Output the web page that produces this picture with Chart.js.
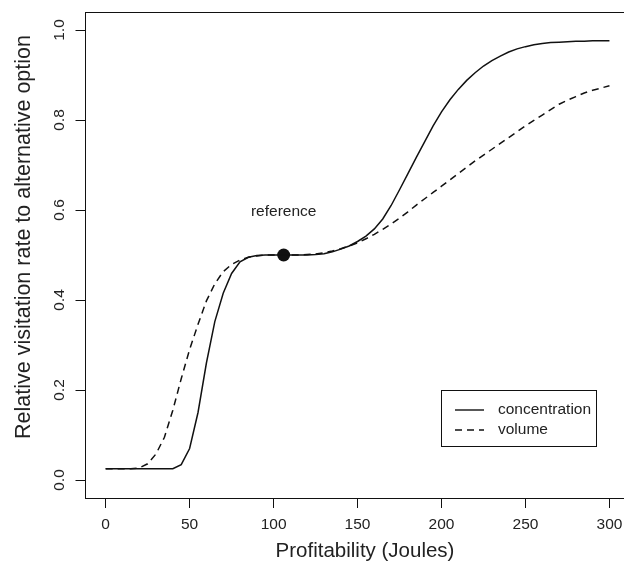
<!DOCTYPE html>
<html>
<head>
<meta charset="utf-8">
<script src="https://cdn.jsdelivr.net/npm/chart.js@4.4.1/dist/chart.umd.min.js"></script>
<style>
  html, body { margin: 0; padding: 0; background: #fff; overflow: hidden; }
  #wrap { position: absolute; left: 0; top: 0; width: 660px; height: 566px; }
</style>
</head>
<body>
<div id="wrap"><canvas id="chart"></canvas></div>
<script>
// profitability (Joules), sampled every 5
const profit = [0, 5, 10, 15, 20, 25, 30, 35, 40, 45, 50, 55, 60, 65, 70, 75, 80, 85, 90, 95,
  100, 105, 110, 115, 120, 125, 130, 135, 140, 145, 150, 155, 160, 165, 170, 175, 180, 185, 190, 195,
  200, 205, 210, 215, 220, 225, 230, 235, 240, 245, 250, 255, 260, 265, 270, 275, 280, 285, 290, 295, 300];

const concentration = [0.025, 0.025, 0.025, 0.025, 0.025, 0.025, 0.025, 0.025, 0.025, 0.034,
  0.07, 0.15, 0.26, 0.352, 0.415, 0.459, 0.485, 0.495, 0.499, 0.5,
  0.5, 0.5, 0.5, 0.5, 0.5, 0.501, 0.503, 0.507, 0.513, 0.52,
  0.53, 0.542, 0.558, 0.58, 0.61, 0.645, 0.681, 0.717, 0.752, 0.787,
  0.818, 0.845, 0.868, 0.888, 0.905, 0.92, 0.932, 0.942, 0.951, 0.958,
  0.963, 0.967, 0.97, 0.972, 0.973, 0.974, 0.975, 0.975, 0.976, 0.976, 0.976];

const volume = [0.025, 0.025, 0.025, 0.025, 0.027, 0.036, 0.058, 0.095, 0.155, 0.225,
  0.29, 0.346, 0.398, 0.436, 0.463, 0.479, 0.489, 0.495, 0.498, 0.5,
  0.5, 0.5, 0.5, 0.5, 0.501, 0.502, 0.505, 0.509, 0.514, 0.52,
  0.527, 0.536, 0.546, 0.557, 0.569, 0.582, 0.596, 0.611, 0.625, 0.639,
  0.653, 0.667, 0.681, 0.695, 0.709, 0.722, 0.735, 0.748, 0.761, 0.774,
  0.787, 0.799, 0.811, 0.823, 0.835, 0.844, 0.852, 0.86, 0.866, 0.871, 0.876];

const refX = [106];
const refY = [0.5];
const refText = 'reference';
const refTextY = 0.6;

const xTicks = [0, 50, 100, 150, 200, 250, 300];
const yTicks = [0, 0.2, 0.4, 0.6, 0.8, 1.0];

const xTitle = 'Profitability (Joules)';
const yTitle = 'Relative visitation rate to alternative option';

const FONT = "'Liberation Sans', Arial, Helvetica, sans-serif";
const INK = '#111';

function toPoints(xs, ys) {
    return xs.map((x, i) => ({ x: x, y: ys[i] }));
}

// box, rotated y labels, titles, annotation and legend like base R
const rStyle = {
    id: 'rStyle',
    afterDraw(chart) {
        const ctx = chart.ctx;
        const ca = chart.chartArea;
        const xs = chart.scales.x;
        const ys = chart.scales.y;
        ctx.save();
        ctx.strokeStyle = INK;
        ctx.lineWidth = 1;
        ctx.setLineDash([]);
        const l = Math.floor(ca.left) + 0.5, t = Math.floor(ca.top) + 0.5;
        const r = Math.floor(ca.right) + 0.5, b = Math.floor(ca.bottom) + 0.5;
        ctx.strokeRect(l, t, r - l, b - t);

        // y tick labels, parallel to the axis
        ctx.fillStyle = '#222';
        ctx.font = '15.5px ' + FONT;
        ctx.textAlign = 'center';
        ctx.textBaseline = 'middle';
        yTicks.forEach(function (v) {
            ctx.save();
            ctx.translate(60, ys.getPixelForValue(v));
            ctx.rotate(-Math.PI / 2);
            ctx.fillText(v.toFixed(1), 0, 0);
            ctx.restore();
        });

        // annotation
        ctx.fillText(refText, xs.getPixelForValue(refX[0]), ys.getPixelForValue(refTextY) + 2);

        // legend
        const lg = { left: 441.5, top: 390.5, w: 155, h: 56 };
        ctx.strokeRect(lg.left, lg.top, lg.w, lg.h);
        ctx.textAlign = 'left';
        chart.data.datasets.slice(0, 2).forEach(function (ds, i) {
            const y = 410 + i * 20;
            ctx.beginPath();
            ctx.lineWidth = 1.4;
            ctx.setLineDash(ds.borderDash || []);
            ctx.moveTo(455, y);
            ctx.lineTo(484, y);
            ctx.stroke();
            ctx.setLineDash([]);
            ctx.fillText(ds.label, 498, y);
        });

        // axis titles
        ctx.textAlign = 'center';
        ctx.textBaseline = 'alphabetic';
        ctx.font = '20.5px ' + FONT;
        ctx.fillText(xTitle, 365, 557);
        ctx.save();
        ctx.font = '21.5px ' + FONT;
        ctx.translate(30, 237);
        ctx.rotate(-Math.PI / 2);
        ctx.fillText(yTitle, 0, 0);
        ctx.restore();
        ctx.restore();
    }
};

const config = {
    type: 'line',
    data: {
        datasets: [{
            label: 'concentration',
            data: toPoints(profit, concentration),
            borderColor: INK,
            borderWidth: 1.5,
            pointRadius: 0,
            tension: 0,
            fill: false
        }, {
            label: 'volume',
            data: toPoints(profit, volume),
            borderColor: INK,
            borderWidth: 1.5,
            borderDash: [7, 5],
            pointRadius: 0,
            tension: 0,
            fill: false
        }, {
            label: 'reference point',
            data: toPoints(refX, refY),
            showLine: false,
            pointRadius: 6.5,
            pointBackgroundColor: INK,
            pointBorderColor: INK,
            pointBorderWidth: 0
        }]
    },
    options: {
        responsive: true,
        maintainAspectRatio: false,
        animation: false,
        events: [],
        layout: { padding: { left: 0, top: 12, right: 30.4, bottom: 0 } },
        plugins: {
            legend: { display: false },
            tooltip: { enabled: false }
        },
        scales: {
            x: {
                type: 'linear',
                min: -12,
                max: 312,
                afterBuildTicks: function (s) { s.ticks = xTicks.map(v => ({ value: v })); },
                afterFit: function (s) { s.height = 68; },
                grid: { drawOnChartArea: false, drawTicks: true, tickLength: 10, color: INK, lineWidth: 1 },
                border: { display: false },
                ticks: { padding: 7, color: '#222', font: { family: FONT, size: 15.5 }, maxRotation: 0, autoSkip: false },
                title: { display: false }
            },
            y: {
                type: 'linear',
                min: -0.04,
                max: 1.04,
                afterBuildTicks: function (s) { s.ticks = yTicks.map(v => ({ value: v })); },
                afterFit: function (s) { s.width = 85.5; },
                grid: { drawOnChartArea: false, drawTicks: true, tickLength: 10, color: INK, lineWidth: 1 },
                border: { display: false },
                ticks: { display: false },
                title: { display: false }
            }
        }
    },
    plugins: [rStyle]
};

new Chart(document.getElementById('chart'), config);
</script>
</body>
</html>
